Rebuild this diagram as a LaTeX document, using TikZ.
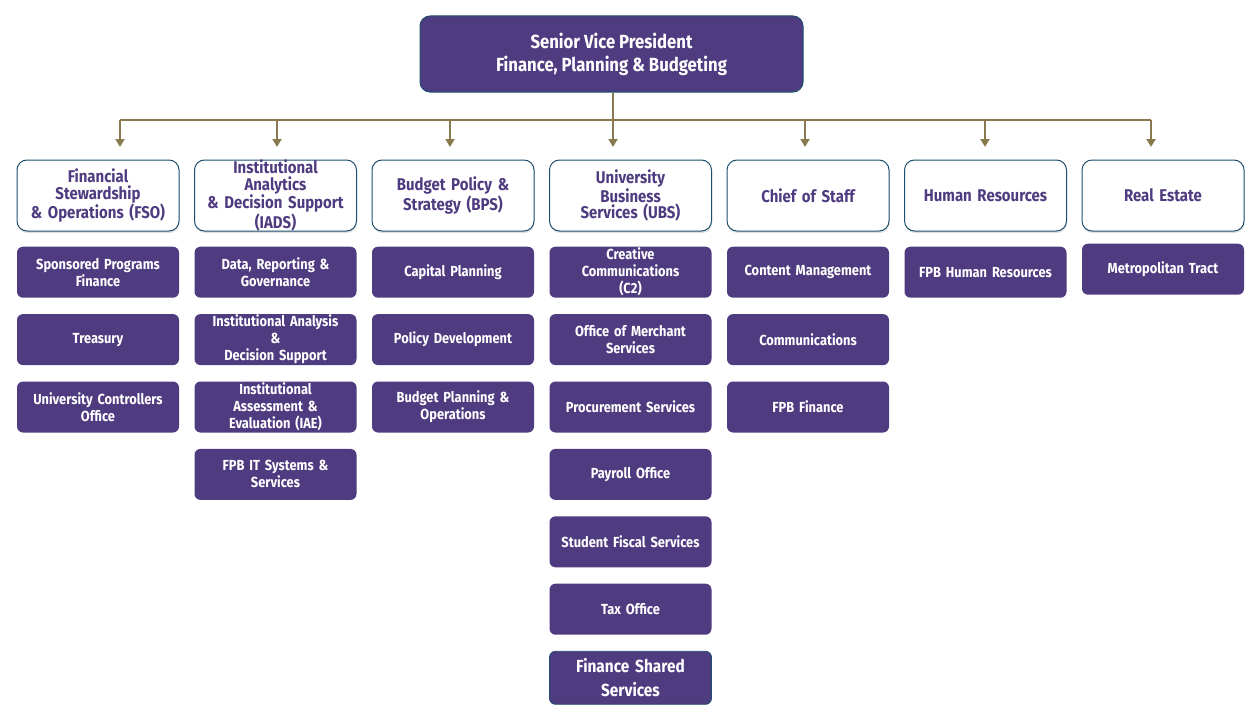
\documentclass[tikz,border=0pt]{standalone}
\usepackage{fontspec}
\setmainfont{Fira Sans}[FakeStretch=0.88]
\usetikzlibrary{arrows.meta,positioning,shadows}
\definecolor{fpbpurple}{HTML}{4F3B80}
\definecolor{unitedge}{HTML}{1E4F6E}
\definecolor{linkolive}{HTML}{887A4E}

\begin{document}
\begin{tikzpicture}[x=1pt, y=-1pt, node distance=16pt and 14.5pt,
  topbox/.style={draw=unitedge, line width=1pt, fill=fpbpurple, rounded corners=10pt, text=white, align=center,
    font=\bfseries\fontsize{19}{23}\selectfont, minimum width=383pt, minimum height=76pt},
  unit/.style={draw=unitedge, line width=1pt, fill=white, rounded corners=10pt, text=fpbpurple, align=center,
    font=\bfseries\fontsize{17}{16.4}\selectfont, minimum width=162pt, minimum height=71pt, text width=158pt, inner sep=0pt,
    drop shadow={opacity=0.25, shadow xshift=0.5pt, shadow yshift=-2pt}},
  office/.style={fill=fpbpurple, rounded corners=6pt, text=white, align=center,
    font=\bfseries\fontsize{14.6}{17}\selectfont, minimum width=162pt, minimum height=51pt, text width=158pt, inner sep=0pt},
  bigoffice/.style={office, draw=unitedge, line width=0.8pt, minimum height=53pt, font=\bfseries\fontsize{17.5}{24}\selectfont},
  link/.style={draw=linkolive, line width=2pt},
  arrow/.style={link, -{Triangle[width=9pt,length=8pt]}}]
\useasboundingbox (0,0) rectangle (1256,725);

% head
\node[topbox] (svp) at (611.5,54) {Senior Vice President\\Finance, Planning \& Budgeting};

% units
\node[unit] (fso) at (98,195.5) {Financial\\Stewardship\\\& Operations (FSO)};
\node[unit, right=of fso] (iads) {Institutional\\Analytics\\\& Decision Support\\(IADS)};
\node[unit, right=of iads] (bps) {Budget Policy \&\\Strategy (BPS)};
\node[unit, right=of bps] (ubs) {University\\Business\\Services (UBS)};
\node[unit, right=of ubs] (cos) {Chief of Staff};
\node[unit, right=of cos] (hr) {Human Resources};
\node[unit, right=of hr] (re) {Real Estate};

% FSO
\node[office, below=15pt of fso] (spf) {Sponsored Programs\\Finance};
\node[office, below=of spf] (treas) {Treasury};
\node[office, below=of treas] (uco) {University Controllers\\Office};

% IADS
\node[office, below=15pt of iads] (drg) {Data, Reporting \&\\Governance};
\node[office, below=of drg] (iads2) {Institutional Analysis\\\&\\Decision Support};
\node[office, below=of iads2] (iae) {Institutional\\Assessment \&\\Evaluation (IAE)};
\node[office, below=of iae] (itsys) {FPB IT Systems \&\\Services};

% BPS
\node[office, below=15pt of bps] (capital) {Capital Planning};
\node[office, below=of capital] (policy) {Policy Development};
\node[office, below=of policy] (bpo) {Budget Planning \&\\Operations};

% UBS
\node[office, below=15pt of ubs] (c2) {Creative\\Communications\\(C2)};
\node[office, below=of c2] (merchant) {Office of Merchant\\Services};
\node[office, below=of merchant] (procure) {Procurement Services};
\node[office, below=of procure] (payroll) {Payroll Office};
\node[office, below=of payroll] (sfs) {Student Fiscal Services};
\node[office, below=of sfs] (tax) {Tax Office};
\node[bigoffice, below=of tax] (fss) {Finance Shared\\Services};

% Chief of Staff
\node[office, below=15pt of cos] (content) {Content Management};
\node[office, below=of content] (comms) {Communications};
\node[office, below=of comms] (fpbfin) {FPB Finance};

% HR, RE
\node[office, below=15pt of hr] (fpbhr) {FPB Human Resources};
\node[office, below=12pt of re] (metro) {Metropolitan Tract};

% connectors
\coordinate (hub) at (613,120);
\coordinate (t1) at (120,147);
\coordinate (t2) at (277,147);
\coordinate (t3) at (450,147);
\coordinate (t4) at (613,147);
\coordinate (t5) at (805,147);
\coordinate (t6) at (985,147);
\coordinate (t7) at (1151,147);
\draw[link] (svp.south -| hub) -- (hub);
\draw[link] (t1 |- hub) -- (t7 |- hub);
\foreach \t in {t1,t2,t3,t4,t5,t6,t7}
  \draw[arrow] (\t |- hub) -- (\t);
\end{tikzpicture}
\end{document}
